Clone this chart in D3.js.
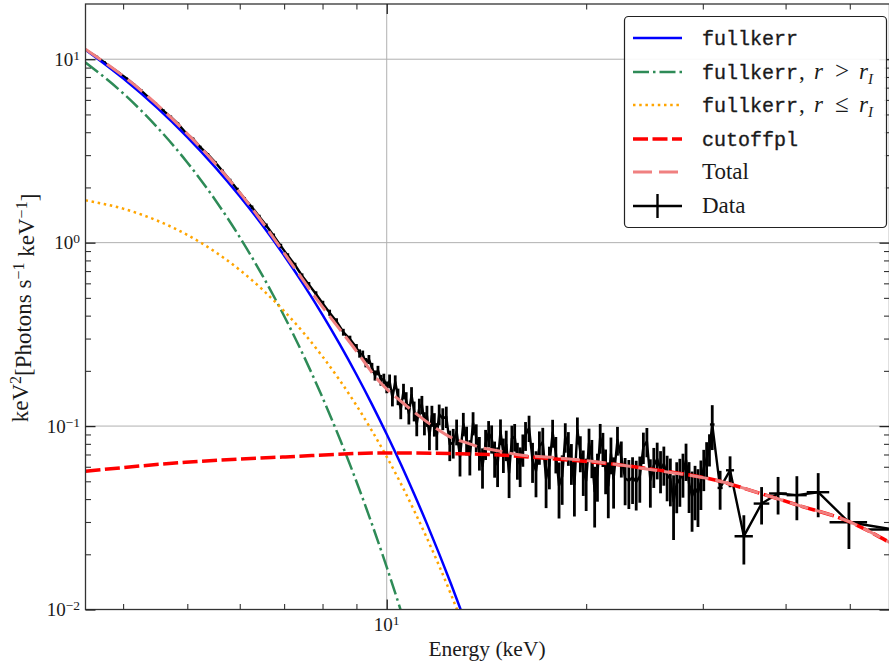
<!DOCTYPE html>
<html>
<head>
<meta charset="utf-8">
<script src="https://cdn.jsdelivr.net/npm/d3@7"></script>
<style>
  body { margin: 0; background: #fff; }
  text { font-family: "Liberation Serif", serif; fill: #1a1a1a; }
  .mono { font-family: "Liberation Mono", monospace; stroke: #1a1a1a; stroke-width: 0.35px; }
</style>
</head>
<body>
<div id="chart-area"></div>
<script>
const width = 889;
const height = 665;
const plotLeft = 85.5, plotRight = 889.5, plotTop = 4, plotBottom = 609.5;

// model components, energy in keV, flux in keV^2 (Photons s^-1 keV^-1)
const kerrEnergy = [3.51, 4.0, 4.5, 5.0, 5.5, 6.0, 6.5, 7.0, 7.5, 8.0, 8.5, 9.0, 9.5, 10.0, 10.5, 11.0, 11.5, 12.0, 12.5, 13.0, 13.5];
const kerrFlux   = [11.27, 7.87, 5.445, 3.763, 2.598, 1.793, 1.236, 0.8515, 0.5864, 0.4036, 0.2777, 0.191, 0.1314, 0.0903, 0.0621, 0.0426, 0.0293, 0.0201, 0.01382, 0.00949, 0.00651];

const outerEnergy = [3.51, 4.0, 4.5, 5.0, 5.5, 6.0, 6.5, 7.0, 7.5, 8.0, 8.5, 9.0, 9.5, 10.0, 10.5, 10.7];
const outerFlux   = [9.6, 6.52, 4.27, 2.738, 1.725, 1.071, 0.6566, 0.3984, 0.2395, 0.1429, 0.0847, 0.0499, 0.0292, 0.01703, 0.00989, 0.00794];

const innerEnergy = [3.51, 4.0, 4.5, 5.0, 5.5, 6.0, 6.5, 7.0, 7.5, 8.0, 8.5, 9.0, 9.5, 10.0, 10.5, 11.0, 11.5, 12.0, 12.5, 13.0];
const innerFlux   = [1.70, 1.532, 1.32, 1.102, 0.894, 0.7098, 0.5527, 0.4238, 0.3206, 0.2394, 0.177, 0.1297, 0.0942, 0.068, 0.0487, 0.0346, 0.0245, 0.01728, 0.0121, 0.00845];

const cutoffEnergy = [3.51, 4.97, 7.03, 9.95, 12.47, 13.8, 17.65, 22.25, 24.98, 31.86, 36.6, 41.6, 50.0, 57.4];
const cutoffFlux   = [0.0567, 0.0635, 0.0679, 0.0714, 0.0708, 0.0703, 0.0665, 0.0617, 0.0584, 0.0500, 0.0430, 0.0372, 0.0300, 0.0232];

const totalEnergy = [3.51, 4.13, 4.80, 5.51, 6.56, 6.91, 7.85, 8.87, 9.78, 10.73, 11.75, 12.54, 13.21, 13.92, 14.84, 15.72, 17.65, 19.82, 21.0, 24.98, 31.86, 36.6, 41.6, 50.0, 57.4];
const totalFlux   = [11.34, 7.40, 4.54, 2.70, 1.227, 0.939, 0.489, 0.275, 0.1726, 0.1282, 0.0997, 0.0862, 0.081, 0.0761, 0.0729, 0.0699, 0.0676, 0.0651, 0.0635, 0.0580, 0.0500, 0.0430, 0.0372, 0.0300, 0.0232];

// fine-binned spectrum
const dataEnergy = [
  3.52, 3.65, 3.75, 3.85, 3.95, 4.05, 4.15, 4.26, 4.37, 4.48, 4.60, 4.72, 4.84, 4.97, 5.10, 5.23, 5.37, 5.51, 5.65,
  5.80, 5.95, 6.10, 6.26, 6.42, 6.58, 6.75, 6.92, 7.09, 7.27, 7.45, 7.63, 7.82, 8.01, 8.20, 8.40, 8.60, 8.80, 9.00,
  9.1, 9.2, 9.3, 9.4, 9.5, 9.6, 9.7, 9.8, 9.9, 10.0, 10.1, 10.2, 10.3, 10.4, 10.5, 10.6, 10.7, 10.8, 10.9, 11.0,
  11.1, 11.2, 11.3, 11.4, 11.5, 11.6, 11.7, 11.8, 11.9, 12.0,
  12.15, 12.3, 12.45, 12.6, 12.75, 12.9, 13.05, 13.2, 13.35, 13.5, 13.65, 13.8, 13.95, 14.1, 14.25, 14.4, 14.55,
  14.7, 14.85, 15.0, 15.15, 15.3, 15.45, 15.6, 15.75, 15.9, 16.05,
  16.2, 16.4, 16.6, 16.8, 17.0, 17.2, 17.4, 17.6, 17.8, 18.0, 18.2, 18.4, 18.6, 18.8, 19.0, 19.2, 19.4, 19.6, 19.8,
  20.0, 20.2, 20.4, 20.6, 20.8, 21.0, 21.2, 21.4, 21.6, 21.8, 22.0,
  22.3, 22.6, 22.9, 23.2, 23.5, 23.8, 24.1, 24.4, 24.7, 25.0, 25.3, 25.6, 25.9, 26.2, 26.5, 26.8, 27.1, 27.4, 27.7,
  28.0, 28.3, 28.6, 28.9, 29.2, 29.5, 29.8, 30.1, 30.4, 30.7
];
const dataFlux = [
  11.2, 10.3, 9.6, 8.95, 8.4, 7.85, 7.3, 6.75, 6.2, 5.72, 5.25, 4.85, 4.45, 3.98, 3.68, 3.32, 3.03, 2.74, 2.46,
  2.19, 1.95, 1.74, 1.56, 1.39, 1.24, 1.09, 0.96, 0.85, 0.755, 0.66, 0.59, 0.525, 0.465, 0.415, 0.372, 0.325, 0.298, 0.268,
  0.249, 0.245, 0.222, 0.231, 0.208, 0.189, 0.201, 0.178, 0.181, 0.163, 0.176, 0.143, 0.174, 0.145, 0.124, 0.155,
  0.138, 0.117, 0.148, 0.121, 0.103, 0.126, 0.131, 0.104, 0.114, 0.0888, 0.114, 0.1026, 0.0888, 0.116,
  0.110, 0.1126, 0.0794, 0.0815, 0.0935, 0.0681, 0.103, 0.0842, 0.0688, 0.104, 0.0872, 0.0722, 0.0606, 0.0803,
  0.0915, 0.0858, 0.0673, 0.0615, 0.0937, 0.0705, 0.0794, 0.0555, 0.0855, 0.0876, 0.066, 0.0615, 0.075,
  0.0892, 0.0979, 0.065, 0.0569, 0.0775, 0.0818, 0.0517, 0.0612, 0.0922, 0.0712, 0.0473, 0.0532, 0.0876, 0.0767,
  0.0638, 0.0481, 0.0954, 0.072, 0.0576, 0.0504, 0.0808, 0.068, 0.044, 0.0547, 0.0867, 0.0758, 0.0585, 0.0474,
  0.0706, 0.0515,
  0.084, 0.0674, 0.052, 0.0503, 0.0526, 0.0497, 0.0532, 0.0771, 0.0826, 0.0509, 0.061, 0.0662, 0.058, 0.0623,
  0.0539, 0.0515, 0.0389, 0.0485, 0.0513, 0.0557, 0.0652, 0.0486, 0.0415, 0.0457, 0.0432, 0.0499, 0.0592, 0.0667, 0.0752
];
const dataErr = [
  0.17, 0.15, 0.14, 0.13, 0.12, 0.11, 0.11, 0.10, 0.09, 0.09, 0.08, 0.08, 0.07, 0.07, 0.06, 0.06, 0.05, 0.05, 0.045,
  0.04, 0.04, 0.035, 0.035, 0.03, 0.03, 0.03, 0.025, 0.025, 0.022, 0.02, 0.02, 0.018, 0.017, 0.016, 0.015, 0.014, 0.013, 0.012,
  0.013, 0.013, 0.013, 0.013, 0.013, 0.012, 0.012, 0.012, 0.012, 0.012, 0.015, 0.015, 0.015, 0.015, 0.015, 0.015,
  0.015, 0.015, 0.015, 0.015, 0.015, 0.015, 0.015, 0.015, 0.015, 0.015, 0.015, 0.015, 0.015, 0.015,
  0.015, 0.015, 0.015, 0.015, 0.015, 0.015, 0.015, 0.015, 0.015, 0.015, 0.015, 0.015, 0.015, 0.015, 0.015, 0.015,
  0.015, 0.015, 0.015, 0.015, 0.015, 0.015, 0.015, 0.015, 0.015, 0.015, 0.015,
  0.016, 0.016, 0.016, 0.016, 0.016, 0.016, 0.016, 0.016, 0.016, 0.016, 0.016, 0.016, 0.016, 0.016, 0.016, 0.016,
  0.016, 0.016, 0.016, 0.016, 0.016, 0.016, 0.016, 0.016, 0.016, 0.016, 0.016, 0.016, 0.016, 0.016,
  0.015, 0.015, 0.015, 0.015, 0.015, 0.015, 0.015, 0.015, 0.015, 0.015, 0.015, 0.015, 0.015, 0.015, 0.015, 0.015,
  0.015, 0.015, 0.015, 0.015, 0.015, 0.015, 0.015, 0.015, 0.015, 0.015, 0.015, 0.015, 0.015
];

// rebinned points at high energy (with bin half-widths)
const binEnergy = [31.0, 31.86, 32.98, 34.6, 36.8, 38.97, 41.6, 44.8, 49.85, 58.1];
const binFlux   = [0.102, 0.046, 0.0574, 0.0251, 0.0378, 0.0429, 0.042, 0.0436, 0.0299, 0.0273];
const binErr    = [0.028, 0.011, 0.011, 0.0075, 0.0087, 0.0099, 0.0113, 0.0118, 0.0085, 0.008];
const binHalf   = [0.25, 0.28, 0.46, 1.1, 1.0, 1.2, 1.45, 1.75, 3.25, 4.8];

const yMajor = [0.01, 0.1, 1, 10];
const xMajor = [10];

const svg = d3.select("#chart-area")
    .append("svg")
        .attr("width", width)
        .attr("height", height);

const x = d3.scaleLog().domain([3.51, 57.4]).range([plotLeft, plotRight]);
const y = d3.scaleLog().domain([0.01, 20]).range([plotBottom, plotTop]);

svg.append("clipPath").attr("id", "plot-clip")
  .append("rect")
    .attr("x", plotLeft).attr("y", plotTop)
    .attr("width", plotRight - plotLeft).attr("height", plotBottom - plotTop);

// grid at decades
const grid = svg.append("g").attr("stroke", "#b0b0b0").attr("stroke-width", 1);
grid.selectAll(".gx").data(xMajor).enter().append("line")
    .attr("x1", d => x(d)).attr("x2", d => x(d))
    .attr("y1", plotTop).attr("y2", plotBottom);
grid.selectAll(".gy").data(yMajor).enter().append("line")
    .attr("x1", plotLeft).attr("x2", plotRight)
    .attr("y1", d => y(d)).attr("y2", d => y(d));

const plot = svg.append("g").attr("clip-path", "url(#plot-clip)");

// data: connecting line + error bars
const dense = d3.zip(dataEnergy, dataFlux, dataErr);
const binned = d3.zip(binEnergy, binFlux, binErr, binHalf);
const allPts = dense.concat(binned);

const straight = d3.line().x(d => x(d[0])).y(d => y(d[1]));
const smooth = d3.line().x(d => x(d[0])).y(d => y(d[1])).curve(d3.curveMonotoneX);

plot.append("path")
    .attr("d", straight(allPts))
    .attr("fill", "none")
    .attr("stroke", "#000")
    .attr("stroke-width", 2.4)
    .attr("stroke-linejoin", "round");

plot.selectAll(".ey").data(allPts).enter().append("line")
    .attr("x1", d => x(d[0])).attr("x2", d => x(d[0]))
    .attr("y1", d => y(d[1] + d[2])).attr("y2", d => y(Math.max(d[1] - d[2], 1e-4)))
    .attr("stroke", "#000").attr("stroke-width", 2.8);

plot.selectAll(".ex").data(binned).enter().append("line")
    .attr("x1", d => x(d[0] - d[3])).attr("x2", d => x(d[0] + d[3]))
    .attr("y1", d => y(d[1])).attr("y2", d => y(d[1]))
    .attr("stroke", "#000").attr("stroke-width", 2.4);

// model curves
const models = [
  { e: kerrEnergy,   f: kerrFlux,   color: "#0000ff", w: 2.5, dash: null },
  { e: outerEnergy,  f: outerFlux,  color: "#2e8b57", w: 2.5, dash: "16 4 2.5 4" },
  { e: innerEnergy,  f: innerFlux,  color: "#ffa500", w: 2.5, dash: "2.5 3.7" },
  { e: cutoffEnergy, f: cutoffFlux, color: "#ff0000", w: 3.5, dash: "15 4.5" },
  { e: totalEnergy,  f: totalFlux,  color: "#f08080", w: 3,   dash: "19 7" }
];

models.forEach(m => {
  plot.append("path")
      .attr("d", smooth(d3.zip(m.e, m.f)))
      .attr("fill", "none")
      .attr("stroke", m.color)
      .attr("stroke-width", m.w)
      .attr("stroke-dasharray", m.dash);
});

// frame and inward ticks on all sides
svg.append("rect")
    .attr("x", plotLeft).attr("y", plotTop)
    .attr("width", plotRight - plotLeft).attr("height", plotBottom - plotTop)
    .attr("fill", "none").attr("stroke", "#333").attr("stroke-width", 1.3);

const xTicks = x.ticks().filter(d => d > x.domain()[0] && d < x.domain()[1]);
const yTicks = y.ticks().filter(d => d >= y.domain()[0] && d < y.domain()[1]);
const isMajor = d => Math.abs(Math.log10(d) - Math.round(Math.log10(d))) < 1e-9;

function addAxis(axis, pos, ticks) {
  const g = svg.append("g").attr("transform", pos)
      .call(axis.tickValues(ticks.filter(d => !isMajor(d))).tickSize(-5.5).tickFormat(""));
  g.select(".domain").remove();
  g.selectAll("line").attr("stroke", "#333").attr("stroke-width", 1.1);
  const g2 = svg.append("g").attr("transform", pos)
      .call(axis.tickValues(ticks.filter(isMajor)).tickSize(-10).tickFormat(""));
  g2.select(".domain").remove();
  g2.selectAll("line").attr("stroke", "#222").attr("stroke-width", 1.3);
}
addAxis(d3.axisBottom(x), `translate(0,${plotBottom})`, xTicks);
addAxis(d3.axisTop(x), `translate(0,${plotTop})`, xTicks);
addAxis(d3.axisLeft(y), `translate(${plotLeft},0)`, yTicks);
addAxis(d3.axisRight(y), `translate(${plotRight},0)`, yTicks);

// tick labels as powers of ten
function powLabel(t, d) {
  const e = Math.round(Math.log10(d));
  t.append("tspan").text("10");
  t.append("tspan").attr("dy", "-0.42em").attr("font-size", "13.5px")
      .text(e < 0 ? "\u2212" + (-e) : String(e));
}

svg.selectAll(".ylab").data(yMajor).enter().append("text")
    .attr("x", plotLeft - 5.5)
    .attr("y", d => y(d) + 6.5)
    .attr("text-anchor", "end")
    .attr("font-size", "19px")
    .each(function(d) { powLabel(d3.select(this), d); });

svg.selectAll(".xlab").data(xMajor).enter().append("text")
    .attr("x", d => x(d))
    .attr("y", plotBottom + 21)
    .attr("text-anchor", "middle")
    .attr("font-size", "19px")
    .each(function(d) { powLabel(d3.select(this), d); });

// axis titles
svg.append("text")
    .attr("x", (plotLeft + 888.5) / 2)
    .attr("y", 656)
    .attr("text-anchor", "middle")
    .attr("font-size", "21.5px")
    .text("Energy (keV)");

const yt = svg.append("text")
    .attr("transform", "translate(28,308) rotate(-90)")
    .attr("text-anchor", "middle")
    .attr("font-size", "23px");
yt.append("tspan").text("keV");
yt.append("tspan").attr("dy", "-0.45em").attr("font-size", "16px").text("2");
yt.append("tspan").attr("dy", "0.45em").text("[Photons s");
yt.append("tspan").attr("dy", "-0.45em").attr("font-size", "16px").text("\u22121");
yt.append("tspan").attr("dy", "0.45em").text(" keV");
yt.append("tspan").attr("dy", "-0.45em").attr("font-size", "16px").text("\u22121");
yt.append("tspan").attr("dy", "0.45em").text("]");

// legend
const legend = svg.append("g");
legend.append("rect")
    .attr("x", 624.5).attr("y", 16.5)
    .attr("width", 262).attr("height", 211)
    .attr("rx", 4)
    .attr("fill", "#fff").attr("fill-opacity", 0.9)
    .attr("stroke", "#222").attr("stroke-width", 1.2);

const rowY = [38, 72, 105, 139, 172, 206];
const hx0 = 633, hx1 = 682, tx = 702;

models.forEach((m, i) => {
  legend.append("line")
      .attr("x1", hx0).attr("x2", hx1)
      .attr("y1", rowY[i]).attr("y2", rowY[i])
      .attr("stroke", m.color)
      .attr("stroke-width", m.w)
      .attr("stroke-dasharray", m.dash);
});
legend.append("line")
    .attr("x1", hx0).attr("x2", hx1).attr("y1", rowY[5]).attr("y2", rowY[5])
    .attr("stroke", "#000").attr("stroke-width", 2.4);
legend.append("line")
    .attr("x1", (hx0 + hx1) / 2).attr("x2", (hx0 + hx1) / 2)
    .attr("y1", rowY[5] - 12).attr("y2", rowY[5] + 12)
    .attr("stroke", "#000").attr("stroke-width", 2.4);

function legendText(i) {
  return legend.append("text").attr("x", tx).attr("y", rowY[i] + 7).attr("font-size", "23px");
}
function radius(t, rel) {
  t.append("tspan").attr("x", 799).text(",");
  t.append("tspan").attr("x", 814).attr("font-style", "italic").text("r");
  t.append("tspan").attr("x", 835).attr("font-size", "25px").text(rel);
  t.append("tspan").attr("x", 859).attr("font-style", "italic").text("r");
  t.append("tspan").attr("font-style", "italic").attr("font-size", "15px").attr("dy", "0.3em").text("I");
}

legendText(0).append("tspan").attr("class", "mono").attr("font-size", "20px").text("fullkerr");
const t1 = legendText(1);
t1.append("tspan").attr("class", "mono").attr("font-size", "20px").text("fullkerr");
radius(t1, ">");
const t2 = legendText(2);
t2.append("tspan").attr("class", "mono").attr("font-size", "20px").text("fullkerr");
radius(t2, "\u2264");
legendText(3).append("tspan").attr("class", "mono").attr("font-size", "20px").text("cutoffpl");
legendText(4).text("Total");
legendText(5).text("Data");
</script>
</body>
</html>
